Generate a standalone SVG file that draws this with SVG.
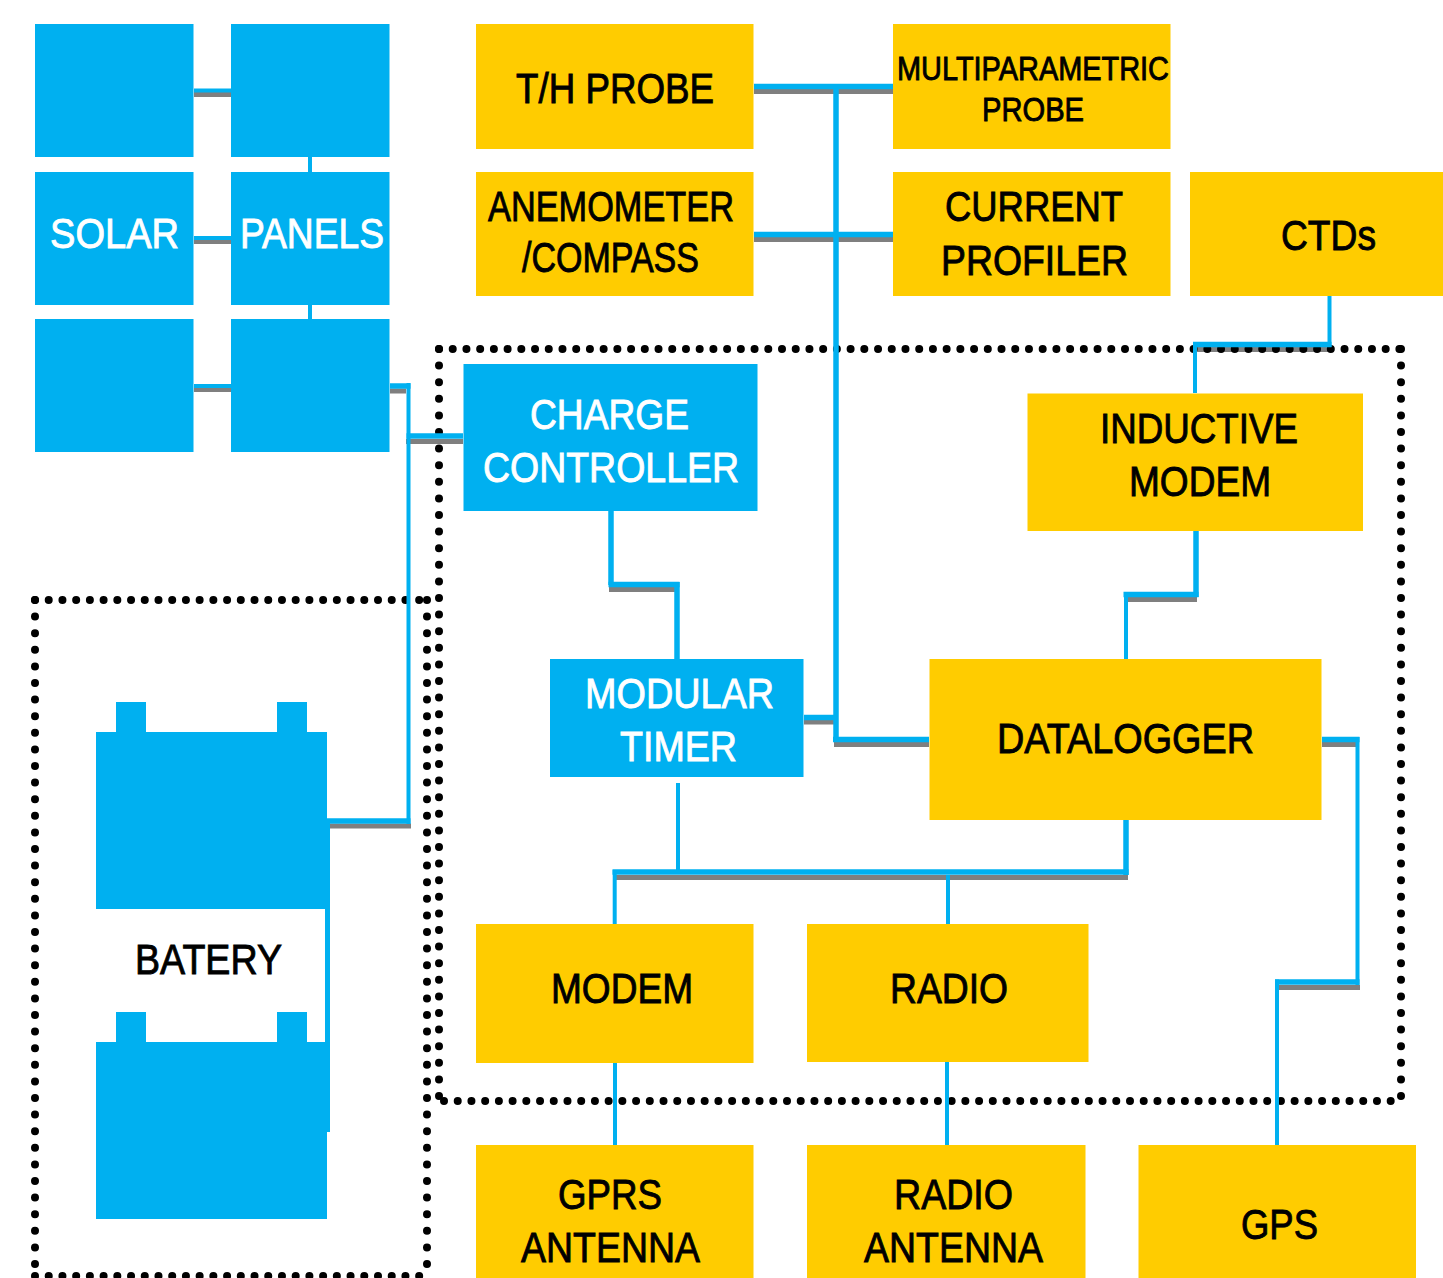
<svg xmlns="http://www.w3.org/2000/svg" width="1443" height="1278" viewBox="0 0 1443 1278">
<style>
.y{fill:#ffcc00}.b{fill:#00b0f0}
text{font-family:"Liberation Sans Narrow","Liberation Sans",Arial,sans-serif;font-size:43px;stroke-width:0.9px}
.k{fill:#000;stroke:#000}.w{fill:#fff;stroke:#fff}
.m{font-size:34px}
.c{fill:none;stroke:#00b0f0;stroke-width:5.500}
.c2{fill:none;stroke:#00b0f0;stroke-width:4}
.s{fill:none;stroke:#7f7f7f;stroke-width:5}
.dh{fill:none;stroke:#000;stroke-width:8;stroke-linecap:round;stroke-dasharray:0 13.72}
.dv{fill:none;stroke:#000;stroke-width:8;stroke-linecap:round;stroke-dasharray:0 16.6}
</style>
<g id="connector-shadows">
<path class="s" d="M194 94.500H231M194 241.500H231M194 389.500H231M390 391H406M406 441.500H463M327 826H411"/>
<path class="s" d="M754 91.500H893M754 239.500H893M804 722H834M834 744.500H929M609 589.500H679M616 877.500H1128M1125 599.500H1197M1196 349.500H1331M1322 744.500H1356M1278 987.500H1360"/>
</g>
<g id="enclosures">
<path class="dh" d="M439 349H1401"/><path class="dh" d="M444 1101H1401"/>
<path class="dv" d="M439 349V1101"/><path class="dv" d="M1401 349V1101"/>
<path class="dh" d="M35 600H427"/><path class="dh" d="M35 1276H427"/>
<path class="dv" d="M35 600V1276"/><path class="dv" d="M427 600V1276"/>
</g>
<g id="connectors">
<path class="c2" d="M194 90.500H231M194 238H231M194 386H231"/>
<path class="c2" d="M310 157V172M310 305V319"/>
<path class="c" d="M390 386H410.500"/>
<path class="c2" d="M408.500 383V824"/>
<path class="c" d="M327 821H410.500"/>
<path class="c" d="M406.500 436H463"/>
<path class="c" d="M754 86.500H893M754 234.500H893"/>
<path class="c" d="M836 84V742"/>
<path class="c" d="M833 739.500H929"/>
<path class="c" d="M804 717.500H834"/>
<path class="c" d="M611 511V585"/>
<path class="c" d="M608.500 584.500H679.500"/>
<path class="c" d="M677 582V659"/>
<path class="c2" d="M678 783V870"/>
<path class="c" d="M1126 820V875"/>
<path class="c" d="M612.500 872H1128.500"/>
<path class="c2" d="M614.700 870V924"/>
<path class="c2" d="M948 875V924"/>
<path class="c2" d="M615 1063V1145M947 1062V1145"/>
<path class="c" d="M1196 531V597"/>
<path class="c" d="M1123.500 594.500H1198.500"/>
<path class="c2" d="M1126 592V659"/>
<path class="c2" d="M1329.500 296V347"/>
<path class="c" d="M1193 344.500H1331.500"/>
<path class="c2" d="M1195 342V393"/>
<path class="c" d="M1322 739.500H1359.500"/>
<path class="c2" d="M1357.500 737V985"/>
<path class="c" d="M1275 982H1359.500"/>
<path class="c2" d="M1277 979.500V1145"/>
</g>
<g id="solar-panel-1"><rect class="b" x="35" y="24" width="158.500" height="133"/></g>
<g id="solar-panel-2"><rect class="b" x="231" y="24" width="158.500" height="133"/></g>
<g id="solar-panel-3"><rect class="b" x="35" y="172" width="158.500" height="133"/><text class="w" x="50" y="248" textLength="129" lengthAdjust="spacingAndGlyphs">SOLAR</text></g>
<g id="solar-panel-4"><rect class="b" x="231" y="172" width="158.500" height="133"/><text class="w" x="240" y="248" textLength="144" lengthAdjust="spacingAndGlyphs">PANELS</text></g>
<g id="solar-panel-5"><rect class="b" x="35" y="319" width="158.500" height="133"/></g>
<g id="solar-panel-6"><rect class="b" x="231" y="319" width="158.500" height="133"/></g>
<g id="th-probe"><rect class="y" x="476" y="24" width="277.500" height="125"/><text class="k" x="516" y="103" textLength="198" lengthAdjust="spacingAndGlyphs">T/H PROBE</text></g>
<g id="multiparametric-probe"><rect class="y" x="893" y="24" width="277.500" height="125"/><text class="k m" x="897" y="80" textLength="272" lengthAdjust="spacingAndGlyphs">MULTIPARAMETRIC</text><text class="k m" x="982" y="121" textLength="102" lengthAdjust="spacingAndGlyphs">PROBE</text></g>
<g id="anemometer"><rect class="y" x="476" y="172" width="277.500" height="124"/><text class="k" x="488" y="221" textLength="246" lengthAdjust="spacingAndGlyphs">ANEMOMETER</text><text class="k" x="522" y="271.500" textLength="177" lengthAdjust="spacingAndGlyphs">/COMPASS</text></g>
<g id="current-profiler"><rect class="y" x="893" y="172" width="277.500" height="124"/><text class="k" x="945" y="221" textLength="178" lengthAdjust="spacingAndGlyphs">CURRENT</text><text class="k" x="941" y="275" textLength="187" lengthAdjust="spacingAndGlyphs">PROFILER</text></g>
<g id="ctds"><rect class="y" x="1190" y="172" width="253" height="124"/><text class="k" x="1281" y="250" textLength="95" lengthAdjust="spacingAndGlyphs">CTDs</text></g>
<g id="charge-controller"><rect class="b" x="463.500" y="364" width="294" height="147"/><text class="w" x="530" y="428.500" textLength="159" lengthAdjust="spacingAndGlyphs">CHARGE</text><text class="w" x="483" y="481.500" textLength="256" lengthAdjust="spacingAndGlyphs">CONTROLLER</text></g>
<g id="inductive-modem"><rect class="y" x="1027.500" y="393.500" width="335.500" height="137.500"/><text class="k" x="1100" y="443" textLength="198" lengthAdjust="spacingAndGlyphs">INDUCTIVE</text><text class="k" x="1129" y="496" textLength="142" lengthAdjust="spacingAndGlyphs">MODEM</text></g>
<g id="modular-timer"><rect class="b" x="550" y="659" width="253.500" height="118"/><text class="w" x="585" y="708" textLength="189" lengthAdjust="spacingAndGlyphs">MODULAR</text><text class="w" x="620" y="761" textLength="117" lengthAdjust="spacingAndGlyphs">TIMER</text></g>
<g id="datalogger"><rect class="y" x="929.500" y="659" width="392" height="161"/><text class="k" x="997" y="753" textLength="257" lengthAdjust="spacingAndGlyphs">DATALOGGER</text></g>
<g id="battery">
<path class="b" d="M96 732H116V702H146V732H277V702H307V732H327V820H330V1132H327V1219H96V1042H116V1012H146V1042H277V1012H307V1042H325V909H96Z"/>
<text class="k" x="135" y="974" textLength="147" lengthAdjust="spacingAndGlyphs">BATERY</text>
</g>
<g id="modem"><rect class="y" x="476" y="924" width="277.500" height="139"/><text class="k" x="551" y="1003" textLength="142" lengthAdjust="spacingAndGlyphs">MODEM</text></g>
<g id="radio"><rect class="y" x="807" y="924" width="281.500" height="138"/><text class="k" x="890" y="1003" textLength="118" lengthAdjust="spacingAndGlyphs">RADIO</text></g>
<g id="gprs-antenna"><rect class="y" x="476" y="1145" width="277.500" height="133"/><text class="k" x="558" y="1209" textLength="104" lengthAdjust="spacingAndGlyphs">GPRS</text><text class="k" x="521" y="1262" textLength="179" lengthAdjust="spacingAndGlyphs">ANTENNA</text></g>
<g id="radio-antenna"><rect class="y" x="807" y="1145" width="278.500" height="133"/><text class="k" x="894" y="1209" textLength="119" lengthAdjust="spacingAndGlyphs">RADIO</text><text class="k" x="864" y="1262" textLength="179" lengthAdjust="spacingAndGlyphs">ANTENNA</text></g>
<g id="gps"><rect class="y" x="1138.500" y="1145" width="277.500" height="133"/><text class="k" x="1241" y="1239" textLength="77" lengthAdjust="spacingAndGlyphs">GPS</text></g>
</svg>
